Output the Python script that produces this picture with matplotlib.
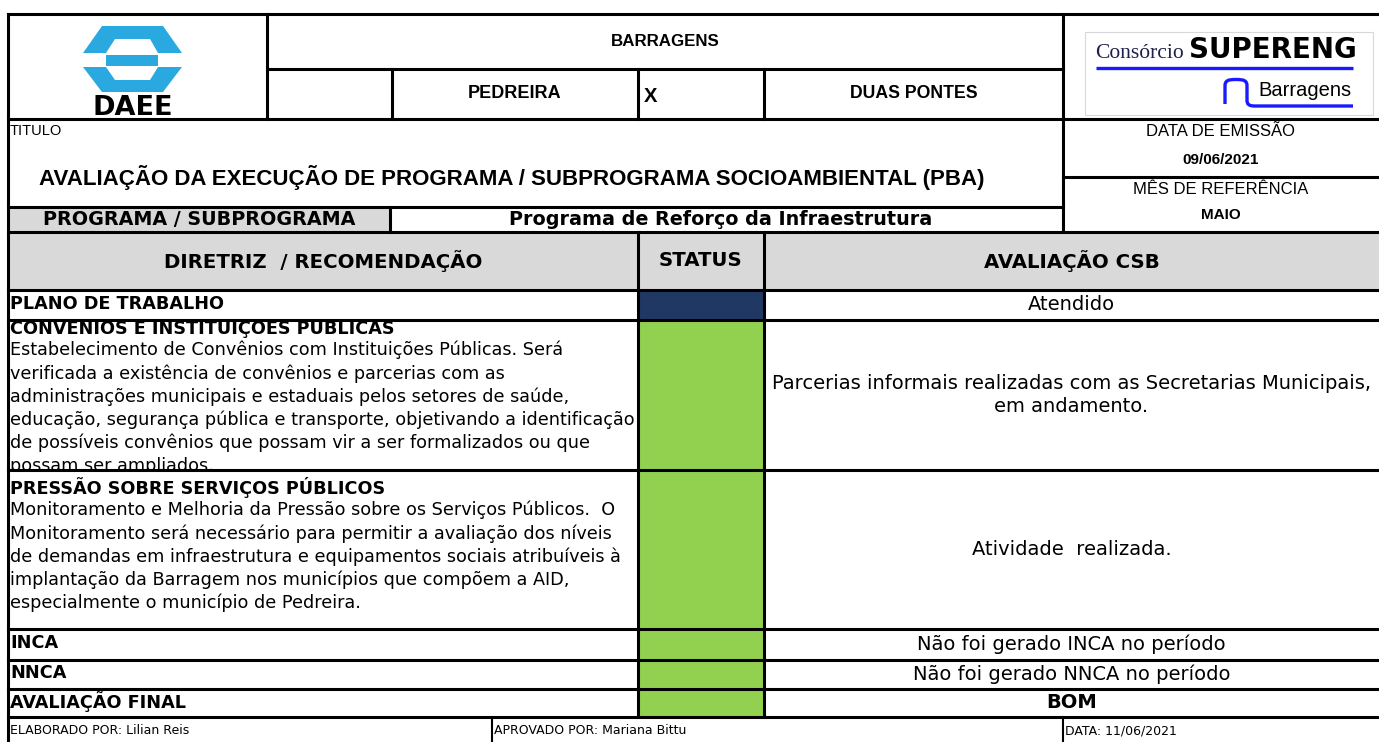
import matplotlib

matplotlib.use('Agg')

import matplotlib.pyplot as plt
from matplotlib.patches import PathPatch, Polygon, Rectangle
from matplotlib.path import Path
from matplotlib.transforms import Bbox


WIDTH_PX = 1379
HEIGHT_PX = 742
DPI = 100

# ---- sheet content ----
HEADER_TITLE = 'BARRAGENS'
DAM_LEFT = 'PEDREIRA'
DAM_MARK = 'X'
DAM_RIGHT = 'DUAS PONTES'
TITLE_LABEL = 'TITULO'
TITLE_TEXT = 'AVALIAÇÃO DA EXECUÇÃO DE PROGRAMA / SUBPROGRAMA SOCIOAMBIENTAL (PBA)'
PROGRAM_LABEL = 'PROGRAMA / SUBPROGRAMA'
PROGRAM_NAME = 'Programa de Reforço da Infraestrutura'
INFO_LABELS = ['DATA DE EMISSÃO', 'MÊS DE REFERÊNCIA']
INFO_VALUES = ['09/06/2021', 'MAIO']
COLUMN_HEADERS = ['DIRETRIZ  / RECOMENDAÇÃO', 'STATUS', 'AVALIAÇÃO CSB']

ROW_TITLES = [
    'PLANO DE TRABALHO',
    'CONVÊNIOS E INSTITUIÇÕES PÚBLICAS',
    'PRESSÃO SOBRE SERVIÇOS PÚBLICOS',
    'INCA',
    'NNCA',
    'AVALIAÇÃO FINAL',
]
ROW_BODIES = [
    [],
    [
        'Estabelecimento de Convênios com Instituições Públicas. Será',
        'verificada a existência de convênios e parcerias com as',
        'administrações municipais e estaduais pelos setores de saúde,',
        'educação, segurança pública e transporte, objetivando a identificação',
        'de possíveis convênios que possam vir a ser formalizados ou que',
        'possam ser ampliados.',
    ],
    [
        'Monitoramento e Melhoria da Pressão sobre os Serviços Públicos.  O',
        'Monitoramento será necessário para permitir a avaliação dos níveis',
        'de demandas em infraestrutura e equipamentos sociais atribuíveis à',
        'implantação da Barragem nos municípios que compõem a AID,',
        'especialmente o município de Pedreira.',
    ],
    [],
    [],
    [],
]
ROW_STATUS = ['navy', 'green', 'green', 'green', 'green', 'green']
ROW_CSB = [
    'Atendido',
    'Parcerias informais realizadas com as Secretarias Municipais,\nem andamento.',
    'Atividade  realizada.',
    'Não foi gerado INCA no período',
    'Não foi gerado NNCA no período',
    'BOM',
]
ROW_CSB_BOLD = [False, False, False, False, False, True]
FOOTER_TEXTS = [
    'ELABORADO POR: Lilian Reis',
    'APROVADO POR: Mariana Bittu',
    'DATA: 11/06/2021',
]

STATUS_COLORS = {'navy': '#1f3864', 'green': '#92d050'}
GRAY = '#d9d9d9'
DAEE_BLUE = '#2aa9e0'
LOGO_BLUE = '#1a1aff'

# ---- grid layout (pixels from top-left) ----
X_LEFT, X_RIGHT = 8, 1379
X_LOGO = 267
X_DAM = 392
X_STATUS = (638, 764)
X_PANEL = 1063
X_PROGRAM = 390
X_FOOTER = (8, 492, 1063)
Y_TOP = 14
Y_DAM = 69
Y_HEAD = 119
Y_INFO = 177
Y_TITLE = 207
Y_PROGRAM = 232
ROW_EDGES = [290, 320, 470, 629, 660, 689, 717]
ROW_FIRST_LINE = [None, 327, 487, None, None, None]
Y_BOTTOM = 742
LINE_STEP = 23.2

THICK = 2.2
THIN = 1.5

BODY_FONT = 'DejaVu Sans'
ARIAL = 'Liberation Sans'
BODY_SIZE = 12.7
CSB_SIZE = 14
HEAD_SIZE = 14.2


def hline(ax, y, x0, x1, lw=THICK):
    ax.plot([x0, x1], [y, y], color='black', lw=lw, solid_capstyle='projecting', zorder=5)


def vline(ax, x, y0, y1, lw=THICK):
    ax.plot([x, x], [y0, y1], color='black', lw=lw, solid_capstyle='projecting', zorder=5)


def fill(ax, x0, y0, x1, y1, color):
    ax.add_patch(Rectangle((x0, y0), x1 - x0, y1 - y0, facecolor=color, edgecolor='none', zorder=1))


def cell_clip(ax, x0, y0, x1, y1):
    (a0, b0), (a1, b1) = ax.transData.transform([(x0, y0), (x1, y1)])
    return Bbox.from_extents(min(a0, a1), min(b0, b1), max(a0, a1), max(b0, b1))


def clipped_text(ax, clip, *args, **kwargs):
    t = ax.text(*args, **kwargs)
    t.set_clip_box(clip)
    t.set_clip_on(True)
    return t


def draw_daee_logo(ax, left, top):
    def shift(points):
        return [(left + px, top + py) for px, py in points]

    shapes = [
        ([(20, 0), (81, 0), (100, 27), (1, 27)], DAEE_BLUE),
        ([(33, 13), (68, 13), (76, 27), (24, 27)], 'white'),
        ([(24, 28.5), (76, 28.5), (76, 39.5), (24, 39.5)], DAEE_BLUE),
        ([(1, 41), (100, 41), (81, 66), (20, 66)], DAEE_BLUE),
        ([(24, 41), (76, 41), (68, 54), (33, 54)], 'white'),
    ]
    for points, color in shapes:
        ax.add_patch(Polygon(shift(points), closed=True, facecolor=color, edgecolor='none', zorder=2))
    ax.text(left + 51, top + 82, 'DAEE', fontsize=19.5, fontweight='bold', family=BODY_FONT,
            ha='center', va='center', zorder=3)


def draw_supereng_logo(ax):
    ax.add_patch(Rectangle((1085, 32), 288, 83, facecolor='white', edgecolor='#d8d8d8', lw=0.8, zorder=2))
    ax.text(1095, 58, 'Consórcio', fontsize=15.5, family='Liberation Serif', color='#20204a',
            ha='left', va='baseline', zorder=3)
    ax.text(1189, 58, 'SUPERENG', fontsize=20, fontweight='heavy', family=BODY_FONT,
            ha='left', va='baseline', zorder=3)
    ax.plot([1096, 1353], [68, 68], color=LOGO_BLUE, lw=2.4, solid_capstyle='butt', zorder=3)
    verts = [
        (1225, 104), (1225, 86),
        (1225, 80.5), (1228, 79.5), (1236, 79.5),
        (1244, 79.5), (1247, 80.5), (1247, 86),
        (1247, 100),
        (1247, 104.5), (1249, 106), (1255, 106),
        (1353, 106),
    ]
    codes = [Path.MOVETO, Path.LINETO,
             Path.CURVE4, Path.CURVE4, Path.CURVE4,
             Path.CURVE4, Path.CURVE4, Path.CURVE4,
             Path.LINETO,
             Path.CURVE4, Path.CURVE4, Path.CURVE4,
             Path.LINETO]
    ax.add_patch(PathPatch(Path(verts, codes), facecolor='none', edgecolor=LOGO_BLUE, lw=2.4, zorder=3))
    ax.text(1352, 91, 'Barragens', fontsize=14.5, family=ARIAL, ha='right', va='center', zorder=3)


def main():
    fig = plt.figure(figsize=(WIDTH_PX / DPI, HEIGHT_PX / DPI), dpi=DPI)
    ax = fig.add_axes([0, 0, 1, 1])
    ax.set_xlim(0, WIDTH_PX)
    ax.set_ylim(HEIGHT_PX, 0)
    ax.axis('off')

    # fills
    fill(ax, X_LEFT, Y_TITLE, X_PROGRAM, Y_PROGRAM, GRAY)
    fill(ax, X_LEFT, Y_PROGRAM, X_RIGHT, ROW_EDGES[0], GRAY)
    for i, status in enumerate(ROW_STATUS):
        fill(ax, X_STATUS[0], ROW_EDGES[i], X_STATUS[1], ROW_EDGES[i + 1], STATUS_COLORS[status])

    # logos
    draw_daee_logo(ax, 82, 26)
    draw_supereng_logo(ax)

    # top header texts
    ax.text((X_LOGO + X_PANEL) / 2, (Y_TOP + Y_DAM) / 2, HEADER_TITLE, family=ARIAL,
            fontsize=12.2, fontweight='bold', ha='center', va='center')
    ax.text((X_DAM + X_STATUS[0]) / 2, (Y_DAM + Y_HEAD) / 2, DAM_LEFT, family=ARIAL,
            fontsize=13, fontweight='bold', ha='center', va='center')
    ax.text(X_STATUS[0] + 6, (Y_DAM + Y_HEAD) / 2 + 2, DAM_MARK, family=ARIAL,
            fontsize=14.5, fontweight='bold', ha='left', va='center')
    ax.text((X_STATUS[1] + X_PANEL) / 2, (Y_DAM + Y_HEAD) / 2, DAM_RIGHT, family=ARIAL,
            fontsize=12.7, fontweight='bold', ha='center', va='center')
    ax.text(X_LEFT + 2, Y_HEAD + 12, TITLE_LABEL, family=ARIAL, fontsize=10.5,
            ha='left', va='center')
    ax.text(512, Y_HEAD + 59, TITLE_TEXT, family=ARIAL,
            fontsize=16, fontweight='bold', ha='center', va='center')
    ax.text((X_LEFT + X_PROGRAM) / 2, (Y_TITLE + Y_PROGRAM) / 2, PROGRAM_LABEL,
            family=BODY_FONT, fontsize=13.8, fontweight='bold', ha='center', va='center')
    ax.text((X_PROGRAM + X_PANEL) / 2 - 6, (Y_TITLE + Y_PROGRAM) / 2, PROGRAM_NAME,
            family=BODY_FONT, fontsize=13.8, fontweight='bold', ha='center', va='center')

    # right info panel
    panel_cx = (X_PANEL + X_RIGHT) / 2
    info_rows = [(Y_HEAD, Y_INFO), (Y_INFO, Y_PROGRAM)]
    for (y0, y1), label, value in zip(info_rows, INFO_LABELS, INFO_VALUES):
        ax.text(panel_cx, y0 + 12, label, family=ARIAL, fontsize=12, ha='center', va='center')
        ax.text(panel_cx, y1 - 17, value, family=ARIAL, fontsize=11, fontweight='bold',
                ha='center', va='center')

    # column headers
    header_y = (Y_PROGRAM + ROW_EDGES[0]) / 2
    header_x = [(X_LEFT + X_STATUS[0]) / 2, sum(X_STATUS) / 2, (X_STATUS[1] + X_RIGHT) / 2]
    for x, label in zip(header_x, COLUMN_HEADERS):
        ax.text(x, header_y, label, family=BODY_FONT, fontsize=HEAD_SIZE, fontweight='bold',
                ha='center', va='center')

    # body rows
    for i, title in enumerate(ROW_TITLES):
        y0, y1 = ROW_EDGES[i], ROW_EDGES[i + 1]
        clip = cell_clip(ax, X_LEFT, y0, X_STATUS[0], y1)
        first = ROW_FIRST_LINE[i]
        if first is None:
            ax.text(X_LEFT + 2, (y0 + y1) / 2 - 1, title, family=BODY_FONT, fontsize=BODY_SIZE,
                    fontweight='bold', ha='left', va='center')
        else:
            clipped_text(ax, clip, X_LEFT + 2, first, title, family=BODY_FONT,
                         fontsize=BODY_SIZE, fontweight='bold', ha='left', va='center')
            for k, line in enumerate(ROW_BODIES[i]):
                clipped_text(ax, clip, X_LEFT + 2, first + LINE_STEP * (k + 1), line,
                             family=BODY_FONT, fontsize=BODY_SIZE, ha='left', va='center')
        ax.text(header_x[2], (y0 + y1) / 2, ROW_CSB[i], family=BODY_FONT, fontsize=CSB_SIZE,
                fontweight='bold' if ROW_CSB_BOLD[i] else 'normal', ha='center', va='center',
                linespacing=1.3)

    # footer
    for x, label in zip(X_FOOTER, FOOTER_TEXTS):
        ax.text(x + 2, Y_BOTTOM - 11, label, family=BODY_FONT,
                fontsize=9, ha='left', va='center')

    # grid lines
    hline(ax, Y_TOP, X_LEFT, X_RIGHT)
    hline(ax, Y_DAM, X_LOGO, X_PANEL)
    hline(ax, Y_HEAD, X_LEFT, X_RIGHT)
    hline(ax, Y_INFO, X_PANEL, X_RIGHT)
    hline(ax, Y_TITLE, X_LEFT, X_PANEL)
    hline(ax, Y_PROGRAM, X_LEFT, X_RIGHT)
    for y in ROW_EDGES:
        hline(ax, y, X_LEFT, X_RIGHT)
    vline(ax, X_LEFT, Y_TOP, Y_BOTTOM)
    vline(ax, X_LOGO, Y_TOP, Y_HEAD)
    vline(ax, X_DAM, Y_DAM, Y_HEAD)
    for x in X_STATUS:
        vline(ax, x, Y_DAM, Y_HEAD)
        vline(ax, x, Y_PROGRAM, ROW_EDGES[-1])
    vline(ax, X_PANEL, Y_TOP, Y_PROGRAM)
    vline(ax, X_PROGRAM, Y_TITLE, Y_PROGRAM)
    for x in X_FOOTER[1:]:
        vline(ax, x, ROW_EDGES[-1], Y_BOTTOM, lw=THIN)

    fig.savefig('out.png', dpi=DPI)
    plt.close(fig)


if __name__ == '__main__':
    main()
